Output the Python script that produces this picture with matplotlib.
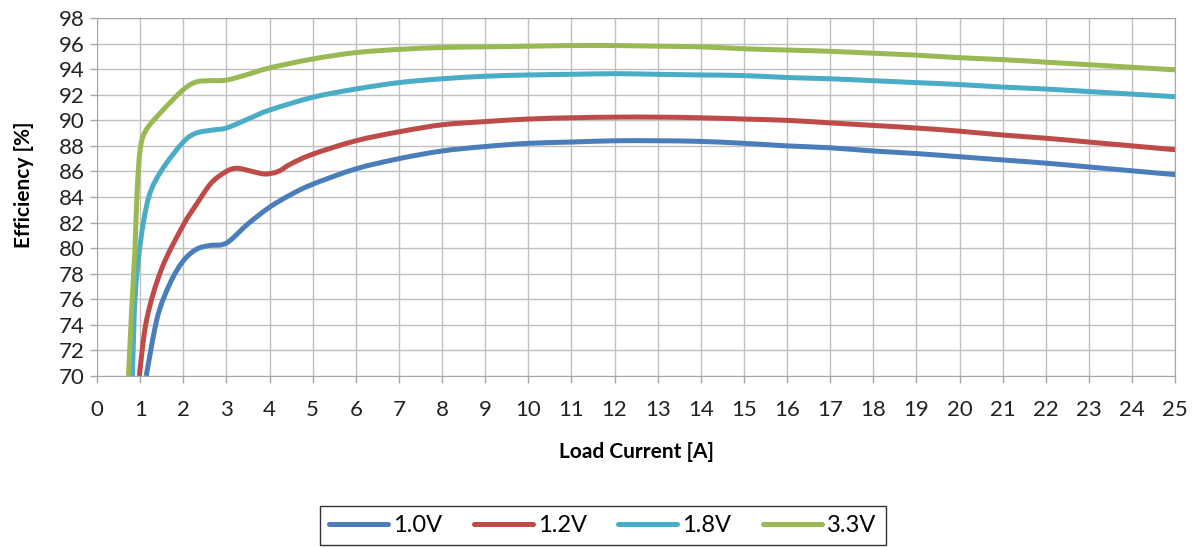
import matplotlib.pyplot as plt
from matplotlib.lines import Line2D
from matplotlib.patches import PathPatch
from matplotlib.path import Path

plt.rcParams["font.family"] = ["Lato", "DejaVu Sans"]

# load current [A] and efficiency [%] per output voltage
x_10v = [1.14, 1.4, 1.7, 2.0, 2.3, 2.6, 3.0, 3.5, 4.0, 4.5, 5, 6, 7, 8, 9, 10, 11, 12, 13, 14, 15, 16, 17, 18, 19, 20, 21, 22, 23, 24, 25]
y_10v = [70.0, 74.6, 77.3, 79.0, 79.9, 80.2, 80.4, 81.9, 83.2, 84.2, 85.0, 86.2, 87.0, 87.6, 87.95, 88.2, 88.3, 88.4, 88.4, 88.35, 88.2, 88.0, 87.85, 87.6, 87.4, 87.15, 86.9, 86.65, 86.35, 86.05, 85.75]

x_12v = [0.98, 1.15, 1.5, 2.0, 2.3, 2.65, 3.0, 3.25, 3.6, 3.9, 4.2, 4.5, 5, 6, 7, 8, 9, 10, 11, 12, 13, 14, 15, 16, 17, 18, 19, 20, 21, 22, 23, 24, 25]
y_12v = [70.0, 74.4, 78.4, 81.8, 83.4, 85.1, 86.0, 86.25, 86.0, 85.8, 86.0, 86.6, 87.35, 88.4, 89.1, 89.65, 89.9, 90.1, 90.2, 90.25, 90.25, 90.2, 90.1, 90.0, 89.8, 89.6, 89.4, 89.15, 88.85, 88.6, 88.3, 88.0, 87.7]

x_18v = [0.82, 0.88, 1.0, 1.2, 1.5, 2.0, 2.3, 2.7, 3.0, 3.5, 4.0, 5, 6, 7, 8, 9, 10, 11, 12, 13, 14, 15, 16, 17, 18, 19, 20, 21, 22, 23, 24, 25]
y_18v = [70.0, 76.0, 80.3, 84.0, 86.1, 88.3, 89.0, 89.25, 89.4, 90.1, 90.8, 91.8, 92.45, 92.95, 93.25, 93.45, 93.55, 93.6, 93.65, 93.6, 93.55, 93.5, 93.35, 93.25, 93.1, 92.95, 92.8, 92.6, 92.45, 92.25, 92.05, 91.85]

x_33v = [0.73, 0.8, 0.88, 0.93, 1.0, 1.13, 1.5, 2.0, 2.3, 2.6, 3.0, 3.5, 4.0, 5, 6, 7, 8, 9, 10, 11, 12, 13, 14, 15, 16, 17, 18, 19, 20, 21, 22, 23, 24, 25]
y_33v = [70.0, 75.0, 80.0, 84.5, 87.7, 89.2, 90.7, 92.4, 93.0, 93.1, 93.15, 93.6, 94.1, 94.8, 95.3, 95.55, 95.7, 95.75, 95.8, 95.85, 95.85, 95.8, 95.75, 95.6, 95.5, 95.4, 95.25, 95.1, 94.9, 94.75, 94.55, 94.35, 94.15, 93.95]

labels = ["1.0V", "1.2V", "1.8V", "3.3V"]
colors = ["#4a7ebb", "#be4b48", "#4bacc6", "#98b954"]


def smooth_path(xs, ys):
	# Excel style smoothed line: cubic bezier through the points
	pts = list(zip(xs, ys))
	verts = [pts[0]]
	codes = [Path.MOVETO]
	n = len(pts)
	for i in range(n - 1):
		p0 = pts[max(i - 1, 0)]
		p1 = pts[i]
		p2 = pts[i + 1]
		p3 = pts[min(i + 2, n - 1)]
		c1 = (p1[0] + (p2[0] - p0[0]) / 6, p1[1] + (p2[1] - p0[1]) / 6)
		c2 = (p2[0] - (p3[0] - p1[0]) / 6, p2[1] - (p3[1] - p1[1]) / 6)
		verts += [c1, c2, p2]
		codes += [Path.CURVE4] * 3
	return Path(verts, codes)


fig = plt.figure(figsize=(11.98, 5.48), dpi=100)
ax = fig.add_axes([0.081, 0.314, 0.9, 0.653])

handles = []
for xs, ys, label, color in zip(
	[x_10v, x_12v, x_18v, x_33v], [y_10v, y_12v, y_18v, y_33v], labels, colors
):
	patch = PathPatch(smooth_path(xs, ys), fill=False, edgecolor=color, lw=3.6, capstyle="butt", joinstyle="round", zorder=3)
	ax.add_patch(patch)
	handles.append(Line2D([], [], color=color, lw=3.6, solid_capstyle="round", label=label))

ax.set_xlim(0, 25)
ax.set_ylim(70, 98)
ax.set_xticks(range(0, 26))
ax.set_yticks(range(70, 99, 2))
ax.grid(True, color="#bfbfbf", lw=1.0)
ax.set_axisbelow(True)
for side in ax.spines.values():
	side.set_color("#a6a6a6")
ax.tick_params(axis="both", colors="#a6a6a6", labelcolor="#222222", labelsize=16, length=5, width=1)
ax.tick_params(axis="x", pad=12)
ax.tick_params(axis="y", pad=4)

ax.set_xlabel("Load Current [A]", fontsize=15, fontweight="bold", va="center")
ax.set_ylabel("Efficiency [%]", fontsize=15, fontweight="bold", va="center")
ax.xaxis.set_label_coords(0.5, -0.212)
ax.yaxis.set_label_coords(-0.068, 0.535)

leg = fig.legend(
	handles=handles,
	loc="center",
	bbox_to_anchor=(0.503, 0.041),
	ncol=4,
	fontsize=17,
	frameon=True,
	fancybox=False,
	handlelength=2.5,
	columnspacing=1.35,
	handletextpad=0.2,
	borderpad=0.4,
	borderaxespad=0,
)
leg.get_frame().set_edgecolor("black")
leg.get_frame().set_linewidth(1.0)

fig.savefig("out.png", dpi=100)
